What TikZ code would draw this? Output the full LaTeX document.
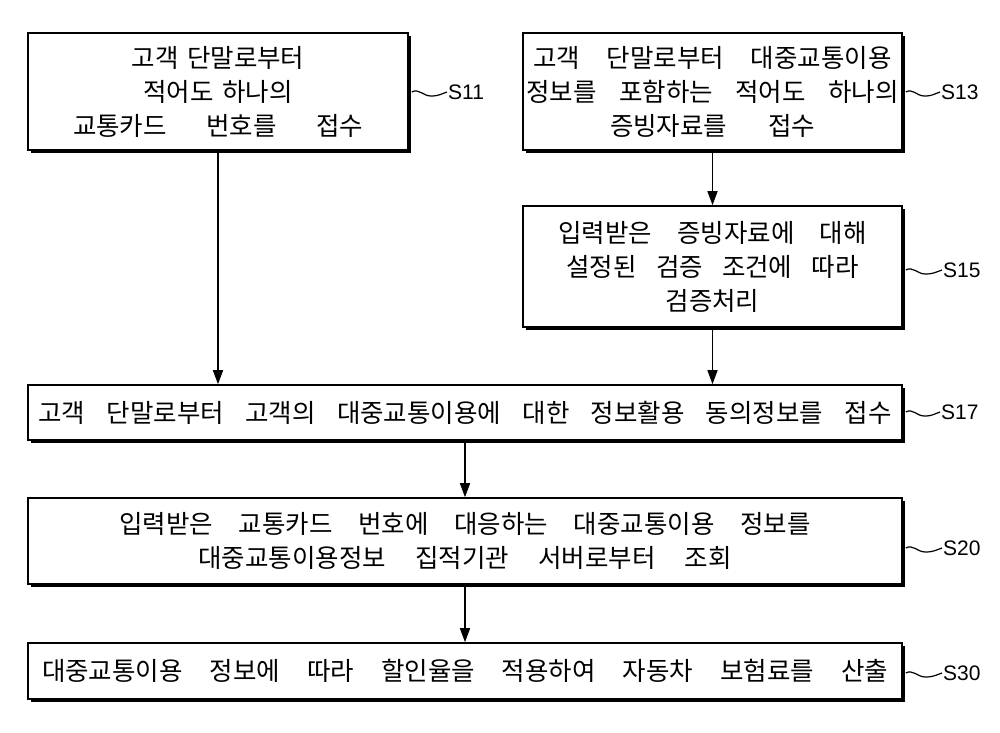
\documentclass[tikz,border=0pt]{standalone}
\usepackage{fontspec}
\newfontfamily\kr[WordSpace=1.5]{Noto Sans CJK KR}
\newfontfamily\lab{Liberation Sans}
\usetikzlibrary{arrows.meta,shadows,calc}
\newcommand\J[2]{\makebox[#1pt][s]{#2}}
\begin{document}
\begin{tikzpicture}[x=1pt,y=-1pt,
  box/.style={draw=black,line width=1.6pt,fill=white,rectangle,align=center,
    font=\kr\fontsize{25.5}{34}\selectfont,inner sep=0pt,
    drop shadow={shadow xshift=3pt,shadow yshift=-3pt,opacity=1,fill=black}},
  arr/.style={line width=1.5pt,-{Triangle[length=14pt,width=10pt]}},
  lbl/.style={font=\lab\fontsize{21}{21}\selectfont,anchor=west,inner sep=1pt},
  squig/.style={line width=1.2pt}]
\useasboundingbox (0,0) rectangle (1000,732);
\fill[white] (0,0) rectangle (1000,732);
\node[box,minimum width=380pt,minimum height=117pt] (s11) at (218,91.5)
  {고객 단말로부터\\적어도 하나의\\\J{290}{교통카드 번호를 접수}};
\node[box,minimum width=379pt,minimum height=117pt] (s13) at (712.5,91.5)
  {\J{358}{고객 단말로부터 대중교통이용}\\\J{372}{정보를 포함하는 적어도 하나의}\\\J{205}{증빙자료를 접수}};
\node[box,minimum width=379pt,minimum height=121pt] (s15) at (712.5,266.5)
  {\J{308}{입력받은 증빙자료에 대해}\\\J{292}{설정된 검증 조건에 따라}\\검증처리};
\node[box,minimum width=874pt,minimum height=55pt] (s17) at (465,412.5)
  {\J{853}{고객 단말로부터 고객의 대중교통이용에 대한 정보활용 동의정보를 접수}};
\node[box,minimum width=874pt,minimum height=86pt] (s20) at (465,541)
  {\J{691}{입력받은 교통카드 번호에 대응하는 대중교통이용 정보를}\\\J{533}{대중교통이용정보 집적기관 서버로부터 조회}};
\node[box,minimum width=874pt,minimum height=56pt] (s30) at (465,671)
  {\J{846}{대중교통이용 정보에 따라 할인율을 적용하여 자동차 보험료를 산출}};

\draw[arr] (s11.south) -- (s17.north -| s11.south);
\draw[arr] (s13.south) -- (s15.north);
\draw[arr] (s15.south) -- (s17.north -| s15.south);
\draw[arr] (s17.south) -- (s20.north);
\draw[arr] (s20.south) -- (s30.north);

\node[lbl] (l11) at (447,92) {S11};
\node[lbl] (l13) at (940,92) {S13};
\node[lbl] (l15) at (942,270) {S15};
\node[lbl] (l17) at (940,412) {S17};
\node[lbl] (l20) at (942,548) {S20};
\node[lbl] (l30) at (942,673) {S30};

\foreach \s/\l in {s11/l11,s13/l13,s15/l15,s17/l17,s20/l20,s30/l30}{
  \draw[squig] ($(\s.east|-\l.west)+(3,0)$) .. controls +(7,-4) and +(-8,0) ..
    ($(\s.east|-\l.west)!0.5!(\l.west)+(3,4)$) .. controls +(8,0) and +(-6,2) .. (\l.west);
}
\end{tikzpicture}
\end{document}
